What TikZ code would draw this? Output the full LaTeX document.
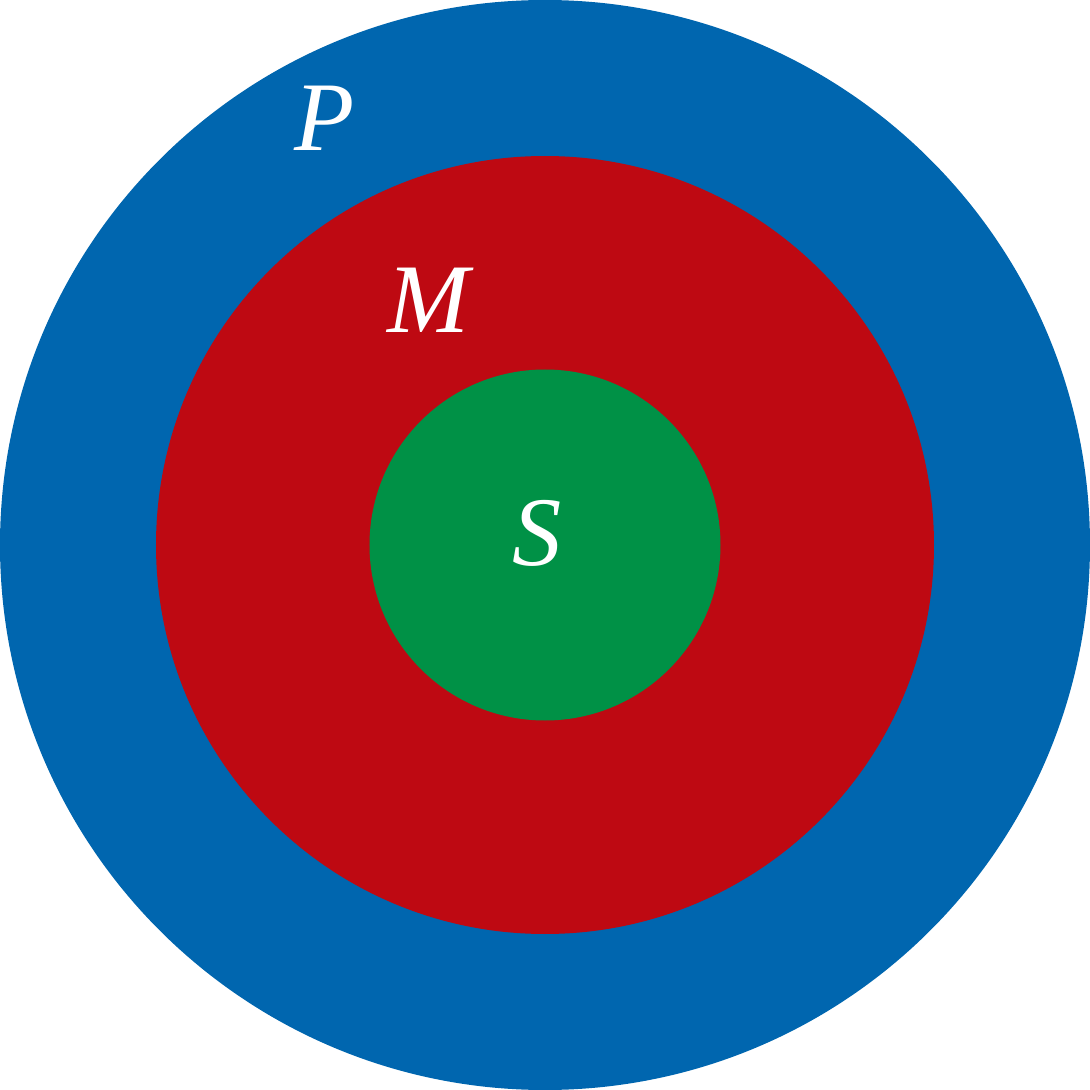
\documentclass[tikz,border=0pt]{standalone}
\usepackage{fontspec}
\newfontfamily\lblfont{Liberation Serif Italic}
\definecolor{oblue}{RGB}{0,102,175}
\definecolor{mred}{RGB}{190,9,18}
\definecolor{sgreen}{RGB}{0,145,70}
\begin{document}
\begin{tikzpicture}[
  lbl/.style={text=white,font=\fontsize{28}{30}\lblfont,inner sep=0pt,anchor=center}]
\useasboundingbox (0,0) rectangle (10.9,10.9);
\fill[oblue] (5.45,5.45) circle (5.45);
\fill[mred] (5.45,5.45) circle (3.89);
\fill[sgreen] (5.45,5.45) circle (1.755);
\node[lbl] (P) at (3.25,9.72) {P};
\node[lbl] (M) at (4.28,7.90) {M};
\node[lbl] (S) at (5.37,5.57) {S};
\end{tikzpicture}
\end{document}
